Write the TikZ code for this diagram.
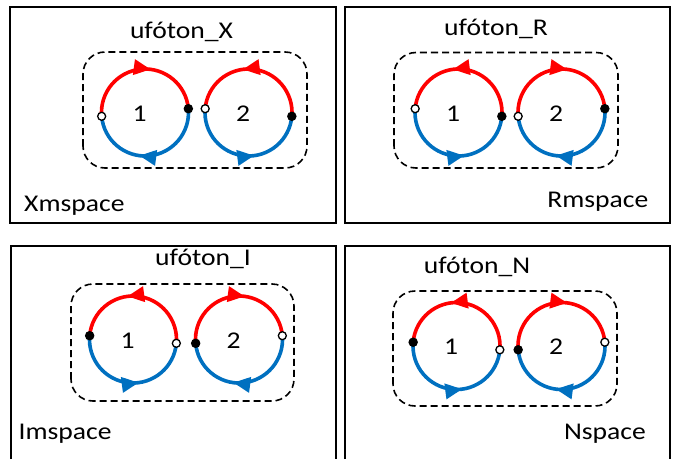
\documentclass[tikz,border=0pt]{standalone}
\usepackage{fontspec}
\setmainfont{Carlito}[FakeStretch=1.15]
\usetikzlibrary{arrows.meta,decorations.markings}
\definecolor{loopred}{RGB}{255,0,0}
\definecolor{loopblue}{RGB}{0,112,192}

\begin{document}
\begin{tikzpicture}[x=1pt, y=1pt, font=\fontsize{24}{28}\selectfont,
  panel/.style={line width=2pt},
  pairbox/.style={line width=1.6pt, dash pattern=on 7pt off 4pt, rounded corners=22pt},
  halfloop/.style={line width=3.6pt, draw=#1, postaction=decorate,
    decoration={markings, mark=at position 0.57 with {\arrow[#1]{Triangle[length=17pt,width=15pt]}}}},
  fulldot/.style={circle, fill=black, inner sep=0pt, minimum size=9.5pt},
  opendot/.style={circle, draw=black, fill=white, line width=1.3pt, inner sep=0pt, minimum size=8pt}]
  \useasboundingbox (0,0) rectangle (674,459);
  \draw[panel] (10,236.5) rectangle (336,452);
  \draw[panel] (344.5,236.5) rectangle (670,452);
  \draw[panel] (10.5,0) |- (336,213) -- (336,0);
  \draw[panel] (345,0) |- (670,213) -- (670,0);
  \draw[pairbox] (83,291) rectangle (307,407);
  \draw[pairbox] (394,291) rectangle (618,406.5);
  \draw[pairbox] (71,58) rectangle (294,175);
  \draw[pairbox] (393,53) rectangle (617,168);
  \foreach \cx/\cy/\rs/\re/\bs/\be/\sa/\sb/\num/\id in {
      145/346.5/185/5/5/-175/opendot/fulldot/1/xa,
      248.5/346.5/-5/175/175/355/fulldot/opendot/2/xb,
      458.5/346.5/-5/175/175/355/fulldot/opendot/1/ra,
      561.5/346.5/185/5/5/-175/opendot/fulldot/2/rb,
      133/119.5/-5/175/175/355/opendot/fulldot/1/ia,
      239/119.5/185/5/5/-175/fulldot/opendot/2/ib,
      456.5/113/-5/175/175/355/opendot/fulldot/1/na,
      561.5/113/185/5/5/-175/fulldot/opendot/2/nb}
  {
    \draw[halfloop=loopblue] (\cx,\cy) ++(\bs:43.5) arc[start angle=\bs, end angle=\be, radius=43.5];
    \draw[halfloop=loopred] (\cx,\cy) ++(\rs:43.5) arc[start angle=\rs, end angle=\re, radius=43.5];
    \path (\cx,\cy) ++(\rs:43.5) node[\sa] (\id-s) {};
    \path (\cx,\cy) ++(\re:43.5) node[\sb] (\id-e) {};
    \node (\id-n) at (\cx-5.5,\cy-1) {\num};
  }
  \node[anchor=base] (titlex) at (181.5,420) {ufóton\_X};
  \node[anchor=base] (titler) at (496,423) {ufóton\_R};
  \node[anchor=base] (titlei) at (203,194) {ufóton\_I};
  \node[anchor=base] (titlen) at (477,186) {ufóton\_N};
  \node[anchor=base west, inner sep=0pt] (spacex) at (24,248) {Xmspace};
  \node[anchor=base east, inner sep=0pt] (spacer) at (648.5,252) {Rmspace};
  \node[anchor=base west, inner sep=0pt] (spacei) at (18.5,20) {Imspace};
  \node[anchor=base east, inner sep=0pt] (spacen) at (646,20) {Nspace};
\end{tikzpicture}
\end{document}
